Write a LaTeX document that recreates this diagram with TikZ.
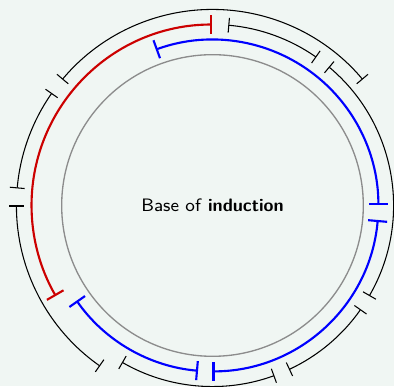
\documentclass[tikz,border=0pt]{standalone}
\usetikzlibrary{arrows}

\definecolor{slidebg}{RGB}{240,246,243}
\definecolor{stepred}{RGB}{204,0,0}
\definecolor{ringgray}{RGB}{140,140,140}

\tikzset{
  seg/.style={|-|, black, line width=0.4pt},
  redseg/.style={|-|, thick, stepred},
  blueseg/.style={|-|, thick, blue},
}

% \segarc{style}{start angle}{end angle}{radius}
\newcommand\segarc[4]{\draw[#1] (#2:#4) arc[start angle=#2, end angle=#3, radius=#4];}

\begin{document}
\begin{tikzpicture}
  % slide area
  \useasboundingbox (-2.818,-2.394) rectangle (2.407,2.725);
  \fill[slidebg] (-2.818,-2.394) rectangle (2.407,2.725);
  \clip (-2.818,-2.394) rectangle (2.407,2.725);

  % base circle
  \draw[ringgray, line width=0.5pt] (0,0) circle[radius=2];
  \node[font=\sffamily\fontsize{6.8}{8}\selectfont] (base) at (0,0) {Base of \textbf{induction}};

  % blue ring
  \segarc{blueseg}{110}{0}{2.2}
  \segarc{blueseg}{-5}{-90}{2.2}
  \segarc{blueseg}{-95}{-145}{2.2}

  % red arc and black steps on the middle ring
  \segarc{redseg}{90}{210}{2.4}
  \segarc{seg}{85}{55}{2.4}
  \segarc{seg}{50}{-30}{2.4}
  \segarc{seg}{-35}{-65}{2.4}
  \segarc{seg}{-70}{-120}{2.4}

  % outer ring
  \segarc{seg}{140}{40}{2.6}
  \segarc{seg}{145}{175}{2.6}
  \segarc{seg}{180}{235}{2.6}
\end{tikzpicture}
\end{document}
